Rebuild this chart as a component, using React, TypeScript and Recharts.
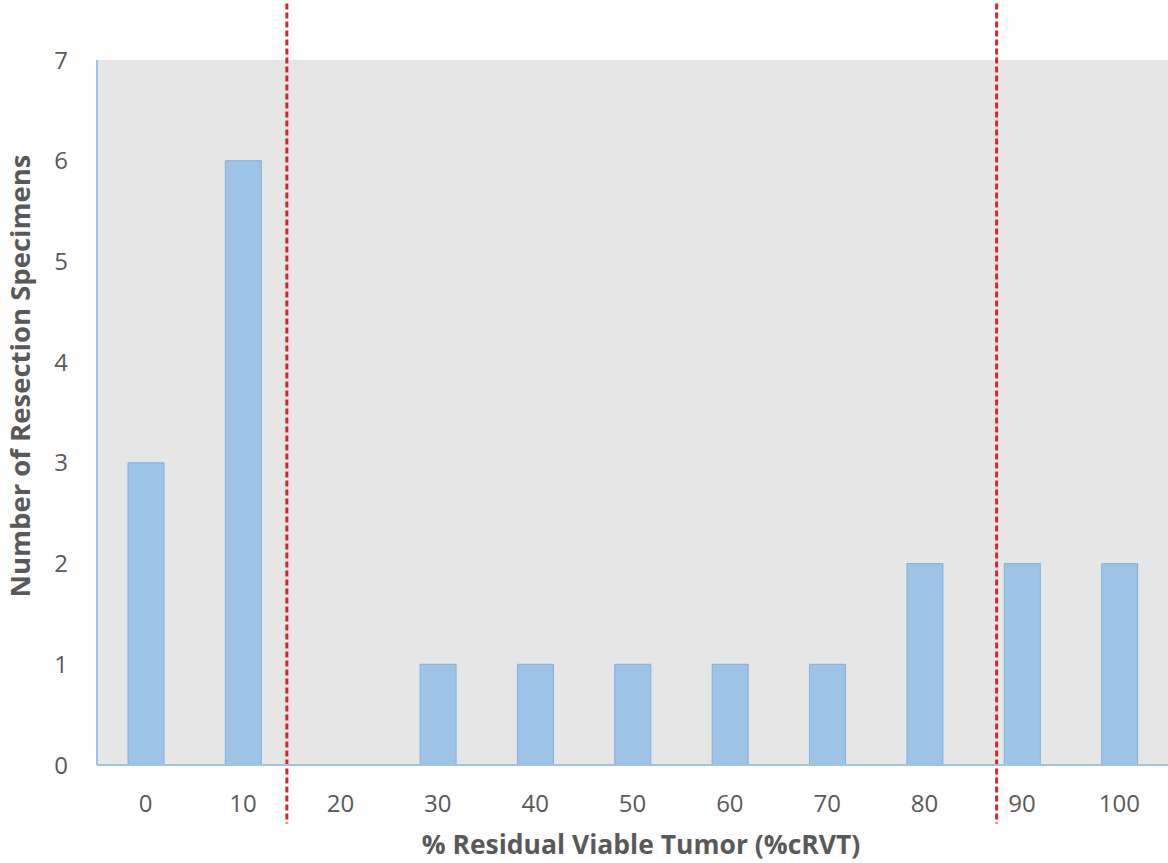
import React from 'react';
import {
  BarChart,
  Bar,
  XAxis,
  YAxis,
  CartesianGrid,
  ReferenceLine,
} from 'recharts';

const categories = ['0', '10', '20', '30', '40', '50', '60', '70', '80', '90', '100'];
const positions = [0, 10, 20, 30, 40, 50, 60, 70, 80, 90, 100];
const specimens = [3, 6, 0, 1, 1, 1, 1, 1, 2, 2, 2];
const yTicks = [0, 1, 2, 3, 4, 5, 6, 7];
// cut-off positions on the %cRVT scale
const cutoffs = [14.5, 87.4];

const data = categories.map((name, i) => ({ name, pos: positions[i], count: specimens[i] }));

const FONT = '"Open Sans", "Liberation Sans", sans-serif';
const TEXT = '#595959';
const AXIS = '#9dc3e6';

const XTitle = () => (
  <text x={641} y={854} textAnchor="middle" fill={TEXT} fontSize={26.5} fontWeight="bold" fontFamily={FONT}>
    % Residual Viable Tumor (%cRVT)
  </text>
);

const YTitle = () => (
  <text
    x={0}
    y={0}
    transform="translate(30, 376) rotate(-90)"
    textAnchor="middle"
    fill={TEXT}
    fontSize={27.5}
    fontWeight="bold"
    fontFamily={FONT}
  >
    Number of Resection Specimens
  </text>
);

export default function App() {
  return (
    <div style={{ position: 'absolute', left: 0, top: 0, width: 1168, height: 863, background: '#fff' }}>
      <BarChart
        width={1168}
        height={863}
        data={data}
        margin={{ top: 60, right: 0, left: 0, bottom: 0 }}
        barCategoryGap={0}
        style={{ fontFamily: FONT }}
      >
        <CartesianGrid fill="#e6e6e6" horizontal={false} vertical={false} />
        <XAxis
          dataKey="name"
          height={98}
          tickSize={0}
          tickMargin={30}
          tickLine={false}
          axisLine={{ stroke: AXIS, strokeWidth: 2 }}
          tick={{ fill: TEXT, fontSize: 24 }}
          label={<XTitle />}
        />
        <XAxis xAxisId="num" dataKey="pos" type="number" domain={[-5, 105]} allowDataOverflow hide />
        <YAxis
          width={97}
          domain={[0, 7]}
          ticks={yTicks}
          tickSize={0}
          tickMargin={29}
          tickLine={false}
          axisLine={{ stroke: AXIS, strokeWidth: 2 }}
          tick={{ fill: TEXT, fontSize: 24 }}
          label={<YTitle />}
        />
        <Bar
          dataKey="count"
          fill="#9dc3e6"
          stroke="#7fb0df"
          strokeWidth={1}
          barSize={36}
          isAnimationActive={false}
        />
        {cutoffs.map((c) => (
          <ReferenceLine
            key={c}
            xAxisId="num"
            segment={[
              { x: c, y: 7.56 },
              { x: c, y: -0.58 },
            ]}
            ifOverflow="visible"
            stroke="#d7262b"
            strokeWidth={3}
            strokeDasharray="6 3"
          />
        ))}
      </BarChart>
    </div>
  );
}
